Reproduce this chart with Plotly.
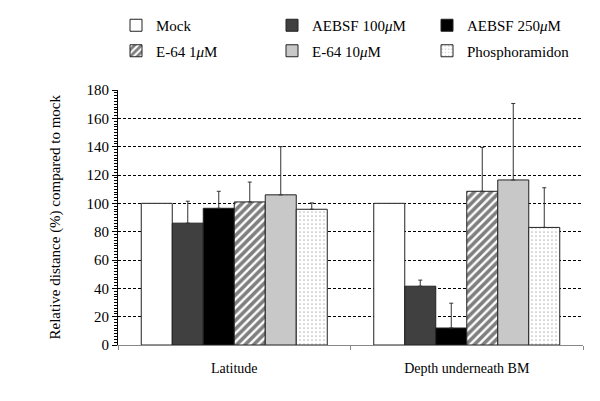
import plotly.graph_objects as go

categories = ["Latitude", "Depth underneath BM"]
series_names = ["Mock", "AEBSF 100<i>μ</i>M", "AEBSF 250<i>μ</i>M", "E-64 1<i>μ</i>M", "E-64 10<i>μ</i>M", "Phosphoramidon"]
mock = [100, 100]
aebsf100 = [86, 41.5]
aebsf250 = [96.5, 12]
e64_1 = [101, 108.5]
e64_10 = [106, 116.5]
phospho = [95.8, 83]
err_mock = [0, 0]
err_aebsf100 = [15.5, 4.3]
err_aebsf250 = [12, 17.5]
err_e64_1 = [14, 31]
err_e64_10 = [34, 54]
err_phospho = [4.5, 28]
y_ticks = [0, 20, 40, 60, 80, 100, 120, 140, 160, 180]
y_title = "Relative distance (%) compared to mock"

values = [mock, aebsf100, aebsf250, e64_1, e64_10, phospho]
errors = [err_mock, err_aebsf100, err_aebsf250, err_e64_1, err_e64_10, err_phospho]

colors = ["white", "#404040", "black", "white", "#c8c8c8", "white"]
patterns = [None, None, None,
            dict(shape="/", fgcolor="black", bgcolor="white", size=6, solidity=0.6),
            None,
            dict(shape=".", fgcolor="#777777", bgcolor="white", size=4, solidity=0.15)]
legend_ids = ["legend", "legend2", "legend3", "legend", "legend2", "legend3"]

W, H = 592, 393
L, R, T, B = 110, 17, 82, 56

fig = go.Figure()
for i, name in enumerate(series_names):
    marker = dict(color=colors[i], line=dict(color="#222222", width=1))
    if patterns[i]:
        marker["pattern"] = patterns[i]
    has_err = any(e > 0 for e in errors[i])
    fig.add_trace(go.Bar(
        name=name, x=categories, y=values[i], marker=marker,
        legend=legend_ids[i], legendgroup=f"g{i}",
        error_y=dict(type="data", array=errors[i], arrayminus=[0, 0], symmetric=False,
                     color="#333333", thickness=1, width=2, visible=has_err),
    ))

font = "Liberation Serif, Times New Roman, serif"
leg_common = dict(orientation="v", xref="container", yref="container", yanchor="top", xanchor="left",
                  y=1 - 1 / H, font=dict(size=15, family=font), tracegroupgap=3,
                  bgcolor="rgba(0,0,0,0)", itemwidth=30)
fig.update_layout(
    width=W, height=H,
    margin=dict(l=L, r=R, t=T, b=B, autoexpand=False),
    barmode="group", bargap=0.2, bargroupgap=0,
    plot_bgcolor="white", paper_bgcolor="white",
    font=dict(family=font, size=14, color="black"),
    legend=dict(x=108 / W, **leg_common),
    legend2=dict(x=264 / W, **leg_common),
    legend3=dict(x=419 / W, **leg_common),
    showlegend=True,
)
fig.add_annotation(
    text=y_title, xref="paper", yref="paper", x=(47 - L) / (W - L - R), y=0.5,
    textangle=-90, showarrow=False, font=dict(size=15, family=font), xanchor="center", yanchor="middle",
)
fig.update_yaxes(
    range=[0, 180], tickvals=y_ticks, showgrid=True, gridcolor="black", griddash="3px,2px", gridwidth=1,
    showline=True, linecolor="black", linewidth=1, ticks="outside", ticklen=5, tickcolor="black",
    minor=dict(dtick=2, ticks="outside", ticklen=3, tickcolor="black", showgrid=False),
    zeroline=False, automargin=False,
    tickfont=dict(size=15),
)
fig.update_xaxes(
    showline=True, linecolor="#888888", linewidth=1, ticks="outside", tickson="boundaries",
    ticklen=4, tickcolor="#888888", tickfont=dict(size=14), automargin=False,
    ticklabelstandoff=10,
)

fig.write_html("out.html")
